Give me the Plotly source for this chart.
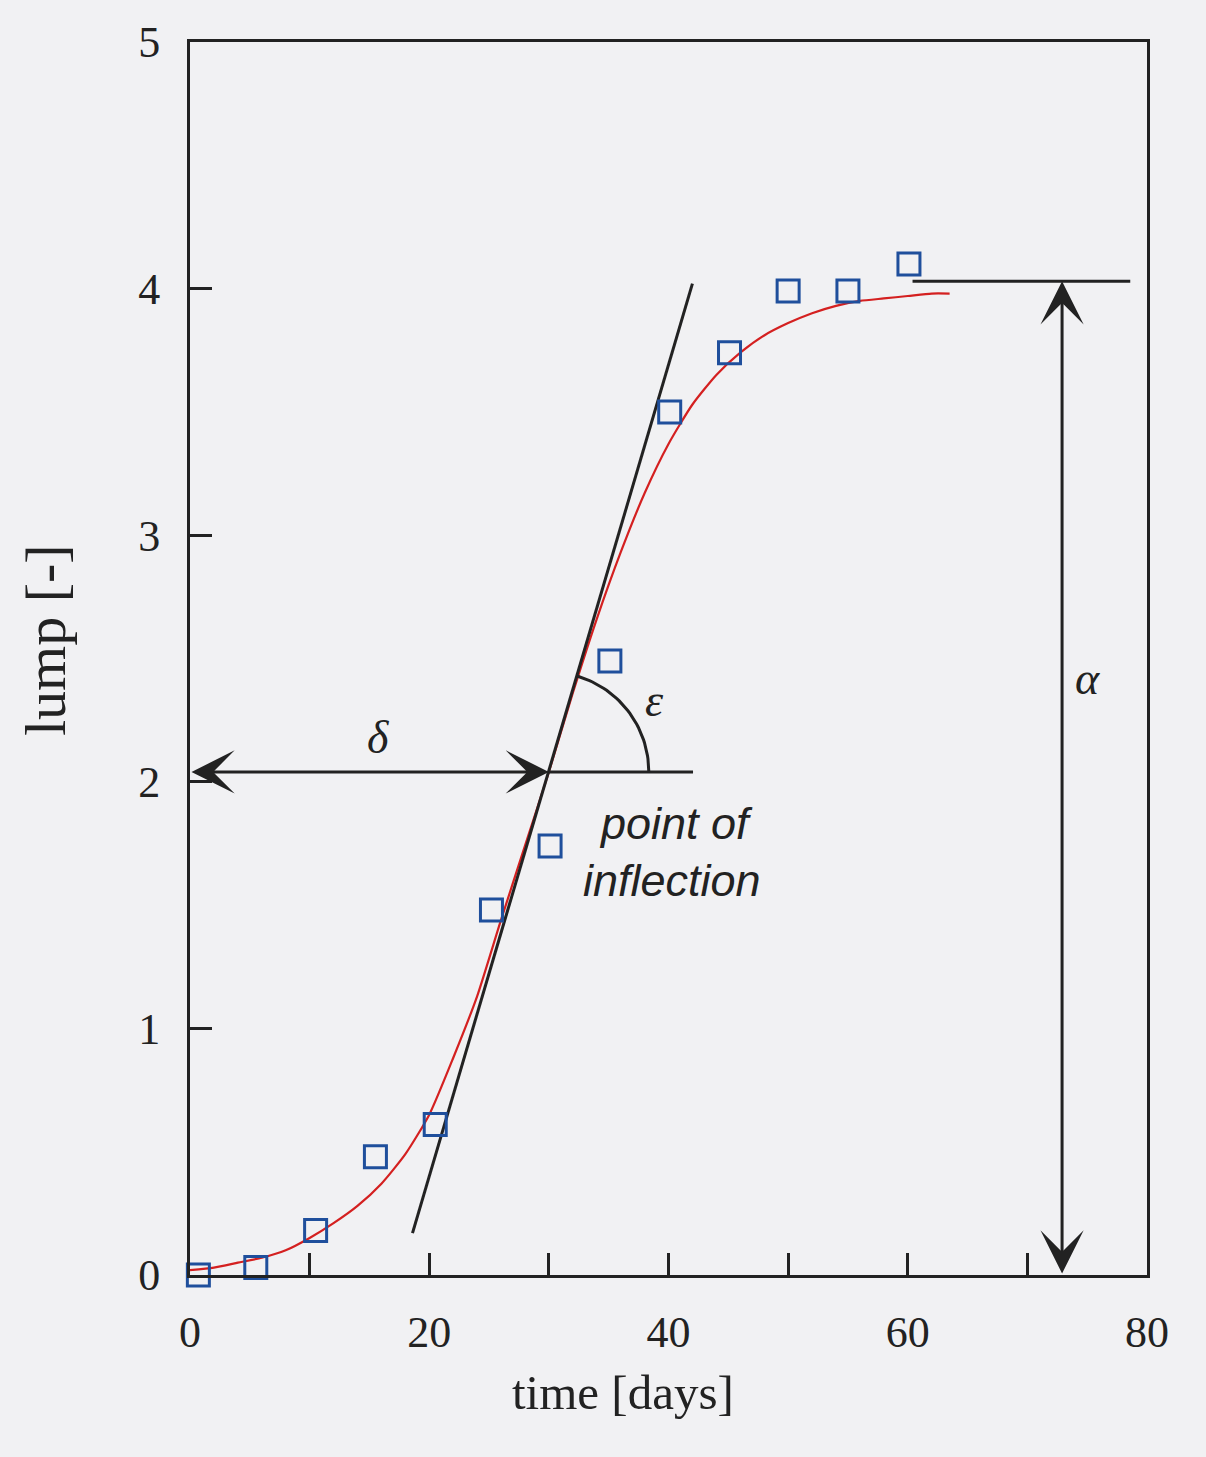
import numpy as np
import plotly.graph_objects as go

# ---- data ----
time_days = [0.7, 5.5, 10.5, 15.5, 20.5, 25.2, 30.1, 35.1, 40.1, 45.1, 50.0, 55.0, 60.1]
lump_obs = [0.0, 0.03, 0.18, 0.48, 0.61, 1.48, 1.74, 2.49, 3.50, 3.74, 3.99, 3.99, 4.10]

curve_t = [0, 2, 4, 6, 8, 10, 12, 14, 16, 18, 20, 22, 24, 26, 28, 30, 32, 34, 36, 38, 40,
           42, 44, 46, 48, 50, 52, 54, 56, 58, 60, 62, 63.5]
curve_lump = [0.02, 0.03, 0.05, 0.07, 0.10, 0.15, 0.21, 0.28, 0.37, 0.49, 0.65, 0.88, 1.13,
              1.44, 1.74, 2.04, 2.36, 2.66, 2.93, 3.17, 3.37, 3.53, 3.65, 3.74, 3.81, 3.86,
              3.90, 3.93, 3.95, 3.96, 3.97, 3.98, 3.98]

tangent_t = [18.6, 42.0]
tangent_lump = [0.17, 4.02]

inflection_t = 30.0
inflection_lump = 2.04
inflection_line_end_t = 42.05

alpha_t = 72.9
alpha_top = 4.03
alpha_line_t = [60.4, 78.6]

x_tickvals = [0, 10, 20, 30, 40, 50, 60, 70, 80]
x_ticktext = ["0", "", "20", "", "40", "", "60", "", "80"]
y_tickvals = [0, 1, 2, 3, 4, 5]
y_ticktext = ["0", "1", "2", "3", "4", "5"]

BG = "#f1f1f3"
INK = "#222222"
BLUE = "#1f4f9c"
RED = "#d42020"

fig = go.Figure()

fig.add_trace(go.Scatter(x=curve_t, y=curve_lump, mode="lines", line=dict(color=RED, width=2.2, shape="spline", smoothing=0.6),
                         showlegend=False, hoverinfo="skip"))
fig.add_trace(go.Scatter(x=tangent_t, y=tangent_lump, mode="lines", line=dict(color=INK, width=3),
                         showlegend=False, hoverinfo="skip"))
fig.add_trace(go.Scatter(x=[inflection_t, inflection_line_end_t], y=[inflection_lump, inflection_lump], mode="lines",
                         line=dict(color=INK, width=3), showlegend=False, hoverinfo="skip"))
fig.add_trace(go.Scatter(x=alpha_line_t, y=[alpha_top, alpha_top], mode="lines",
                         line=dict(color=INK, width=3), showlegend=False, hoverinfo="skip"))

# arc for epsilon (in pixel proportions)
px_per_x = (1147 - 189.5) / 80.0
px_per_y = (1275 - 42) / 5.0
ang_end = np.arctan2((tangent_lump[1] - tangent_lump[0]) * px_per_y, (tangent_t[1] - tangent_t[0]) * px_per_x)
th = np.linspace(0, ang_end, 40)
r_px = 100
arc_x = inflection_t + r_px * np.cos(th) / px_per_x
arc_y = inflection_lump + r_px * np.sin(th) / px_per_y
fig.add_trace(go.Scatter(x=arc_x, y=arc_y, mode="lines", line=dict(color=INK, width=3),
                         showlegend=False, hoverinfo="skip"))

fig.add_trace(go.Scatter(x=time_days, y=lump_obs, mode="markers", cliponaxis=False,
                         marker=dict(symbol="square-open", size=22, color=BLUE, line=dict(width=3, color=BLUE)),
                         showlegend=False, hoverinfo="skip"))

# arrows
arrow_style = dict(xref="x", yref="y", axref="x", ayref="y", text="", showarrow=True, arrowside="end+start",
                   arrowhead=3, startarrowhead=3, arrowsize=2.4, startarrowsize=2.4, arrowwidth=3, arrowcolor=INK)
fig.add_annotation(x=inflection_t, y=inflection_lump, ax=0, ay=inflection_lump, **arrow_style)
fig.add_annotation(x=alpha_t, y=alpha_top, ax=alpha_t, ay=0, **arrow_style)

greek = dict(family="Liberation Serif", size=46, color=INK)
fig.add_annotation(x=15.7, y=2.18, text="<i>δ</i>", showarrow=False, font=greek, xanchor="center", yanchor="middle")
fig.add_annotation(x=38.8, y=2.33, text="<i>ε</i>", showarrow=False, font=greek, xanchor="center", yanchor="middle")
fig.add_annotation(x=75.0, y=2.42, text="<i>α</i>", showarrow=False, font=greek, xanchor="center", yanchor="middle")

sans_i = dict(family="Liberation Sans", size=45, color=INK)
fig.add_annotation(x=40.6, y=1.83, text="<i>point of</i>", showarrow=False, font=sans_i, xanchor="center", yanchor="middle")
fig.add_annotation(x=40.3, y=1.60, text="<i>inflection</i>", showarrow=False, font=sans_i, xanchor="center", yanchor="middle")

# axis titles
fig.add_annotation(x=36.2, y=-0.0957, xref="x", yref="paper", text="time [days]", showarrow=False,
                   xanchor="center", yanchor="middle",
                   font=dict(family="Liberation Serif", size=49, color=INK))
fig.add_annotation(x=-0.1515, y=0.515, xref="paper", yref="paper", text="lump [-]", showarrow=False,
                   textangle=-90, xanchor="center", yanchor="middle",
                   font=dict(family="Liberation Serif", size=58, color=INK))

axis_common = dict(showline=True, linewidth=3, linecolor=INK, mirror=True, showgrid=False, zeroline=False,
                   ticks="inside", ticklen=22, tickwidth=3, tickcolor=INK,
                   tickfont=dict(family="Liberation Serif", size=44, color=INK))

fig.update_xaxes(range=[0, 80], tickmode="array", tickvals=x_tickvals, ticktext=x_ticktext,
                 ticklabelstandoff=16, **axis_common)
fig.update_yaxes(range=[0, 5], tickmode="array", tickvals=y_tickvals, ticktext=y_ticktext,
                 ticklabelstandoff=18, **axis_common)

fig.update_layout(width=1206, height=1457, margin=dict(l=190, r=59, t=42, b=182),
                  paper_bgcolor=BG, plot_bgcolor=BG, showlegend=False)

fig.write_html("out.html", config={"displayModeBar": False},
               post_script="document.body.style.margin='0';document.body.style.background='%s';document.body.style.overflow='hidden';" % BG)
